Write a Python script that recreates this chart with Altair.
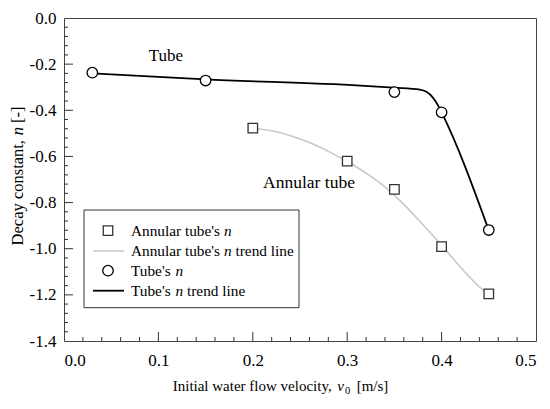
import altair as alt
import pandas as pd

# ---- data ----
annular_v = [0.20, 0.30, 0.35, 0.40, 0.45]
annular_n = [-0.477, -0.620, -0.743, -0.991, -1.196]

tube_v = [0.03, 0.15, 0.35, 0.40, 0.45]
tube_n = [-0.237, -0.271, -0.321, -0.409, -0.919]

annular_trend_v = [0.200, 0.220, 0.240, 0.260, 0.280, 0.300, 0.320,
                   0.340, 0.360, 0.380, 0.400, 0.420, 0.440, 0.450]
annular_trend_n = [-0.477, -0.489, -0.510, -0.540, -0.578, -0.622, -0.672,
                   -0.732, -0.808, -0.895, -0.985, -1.080, -1.165, -1.200]

tube_trend_v = [0.030, 0.150, 0.314, 0.349, 0.377, 0.384, 0.391, 0.3965, 0.400, 0.450]
tube_trend_n = [-0.240, -0.266, -0.293, -0.302, -0.310, -0.320, -0.346, -0.381, -0.409, -0.920]

x_labels = [0.0, 0.1, 0.2, 0.3, 0.4, 0.5]
y_labels = [-1.4, -1.2, -1.0, -0.8, -0.6, -0.4, -0.2, 0.0]
x_major = [0.1, 0.2, 0.3, 0.4]
x_minor = [0.02, 0.04, 0.06, 0.08, 0.12, 0.14, 0.16, 0.18, 0.22, 0.24, 0.26, 0.28,
           0.32, 0.34, 0.36, 0.38, 0.42, 0.44, 0.46, 0.48]
y_major = [-1.2, -1.0, -0.8, -0.6, -0.4, -0.2]
y_minor = [-1.36, -1.32, -1.28, -1.24, -1.16, -1.12, -1.08, -1.04, -0.96, -0.92,
           -0.88, -0.84, -0.76, -0.72, -0.68, -0.64, -0.56, -0.52, -0.48, -0.44,
           -0.36, -0.32, -0.28, -0.24, -0.16, -0.12, -0.08, -0.04]

# ---- styling ----
W, H = 472, 323
FONT = "Liberation Serif"
DARK = "#333333"

xs = alt.Scale(domain=[0, 0.5], nice=False, zero=False)
ys = alt.Scale(domain=[-1.4, 0], nice=False, zero=False)

ax_x = alt.Axis(values=x_labels, format=".1f", ticks=False, grid=False, domain=False,
                title=None, labelFont=FONT, labelFontSize=17, labelColor="black",
                labelPadding=11, labelOverlap=False)
ax_y = alt.Axis(values=y_labels, labelExpr="replace(format(datum.value, '.1f'), '\u2212', '-')",
                ticks=False, grid=False, domain=False, title=None, labelFont=FONT,
                labelFontSize=17, labelColor="black", labelPadding=8, labelOverlap=False)


def X(field="v"):
    return alt.X(f"{field}:Q", scale=xs, axis=ax_x)


def Y(field="n"):
    return alt.Y(f"{field}:Q", scale=ys, axis=ax_y)


annular_df = pd.DataFrame({"v": annular_v, "n": annular_n})
tube_df = pd.DataFrame({"v": tube_v, "n": tube_n})
annular_trend_df = pd.DataFrame({"v": annular_trend_v, "n": annular_trend_n})
tube_trend_df = pd.DataFrame({"v": tube_trend_v, "n": tube_trend_n})

one = pd.DataFrame({"a": [0]})

layers = []

# inward ticks
layers.append(alt.Chart(pd.DataFrame({"v": x_major})).mark_rule(color=DARK, strokeWidth=1)
              .encode(x=X(), y=alt.value(H), y2=alt.value(H - 9)))
layers.append(alt.Chart(pd.DataFrame({"v": x_minor})).mark_rule(color=DARK, strokeWidth=1)
              .encode(x=X(), y=alt.value(H), y2=alt.value(H - 4)))
layers.append(alt.Chart(pd.DataFrame({"n": y_major})).mark_rule(color=DARK, strokeWidth=1)
              .encode(y=Y(), x=alt.value(0), x2=alt.value(9)))
layers.append(alt.Chart(pd.DataFrame({"n": y_minor})).mark_rule(color=DARK, strokeWidth=1)
              .encode(y=Y(), x=alt.value(0), x2=alt.value(4)))

# trend lines
layers.append(alt.Chart(annular_trend_df).mark_line(color="#c8c8c8", strokeWidth=1.6,
                                                   interpolate="monotone")
              .encode(x=X(), y=Y(), order="v:Q"))
layers.append(alt.Chart(tube_trend_df).mark_line(color="black", strokeWidth=1.8,
                                                interpolate="monotone")
              .encode(x=X(), y=Y(), order="v:Q"))

# markers
layers.append(alt.Chart(annular_df).mark_point(shape="square", filled=True, fill="white",
                                               stroke=DARK, strokeWidth=1.3, size=90, opacity=1)
              .encode(x=X(), y=Y()))
layers.append(alt.Chart(tube_df).mark_point(shape="circle", filled=True, fill="white",
                                            stroke="black", strokeWidth=1.3, size=110, opacity=1)
              .encode(x=X(), y=Y()))


def txt(s, x, y, size=15, style="normal", align="left", angle=0, baseline="middle"):
    kw = dict(text=s, font=FONT, fontSize=size, fontStyle=style, align=align,
              baseline=baseline, color="black")
    if angle:
        kw["angle"] = angle
    return alt.Chart(one).mark_text(**kw).encode(x=alt.value(x), y=alt.value(y))


# annotations
layers.append(txt("Tube", 102, 38, size=17, align="center"))
layers.append(txt("Annular tube", 245, 165, size=17.5, align="center"))

# legend
layers.append(alt.Chart(one).mark_rect(fill="white", stroke=DARK, strokeWidth=1)
              .encode(x=alt.value(20), x2=alt.value(235), y=alt.value(192), y2=alt.value(289.7)))
layers.append(alt.Chart(one).mark_point(shape="square", filled=True, fill="white", stroke=DARK,
                                        strokeWidth=1.3, size=90, opacity=1)
              .encode(x=alt.value(44), y=alt.value(212.7)))
layers.append(alt.Chart(one).mark_rule(color="#c8c8c8", strokeWidth=1.6)
              .encode(x=alt.value(29), x2=alt.value(60), y=alt.value(233)))
layers.append(alt.Chart(one).mark_point(shape="circle", filled=True, fill="white", stroke="black",
                                        strokeWidth=1.3, size=110, opacity=1)
              .encode(x=alt.value(44), y=alt.value(252.7)))
layers.append(alt.Chart(one).mark_rule(color="black", strokeWidth=1.8)
              .encode(x=alt.value(29), x2=alt.value(60), y=alt.value(272.7)))

LS = 15.3
layers.append(txt("Annular tube's", 67, 212.7, size=LS))
layers.append(txt("n", 160, 212.7, size=LS, style="italic"))
layers.append(txt("Annular tube's", 67, 233, size=LS))
layers.append(txt("n", 160, 233, size=LS, style="italic"))
layers.append(txt("trend line", 171.5, 233, size=LS))
layers.append(txt("Tube's", 67, 252.7, size=LS))
layers.append(txt("n", 111.5, 252.7, size=LS, style="italic"))
layers.append(txt("Tube's", 67, 272.7, size=LS))
layers.append(txt("n", 111.5, 272.7, size=LS, style="italic"))
layers.append(txt("trend line", 123, 272.7, size=LS))

# axis titles
TS = 15
layers.append(txt("Initial water flow velocity,", 267.7, 368, size=TS, align="right"))
layers.append(txt("v", 276.5, 368, size=TS, style="italic", align="center"))
layers.append(txt("0", 283.5, 373, size=10.5, align="center"))
layers.append(txt("[m/s]", 292.7, 368, size=TS))

YS = 16.5
layers.append(txt("Decay constant,", -46, 122, size=YS, align="right", angle=270))
layers.append(txt("n", -46, 113, size=YS, style="italic", align="center", angle=270))
layers.append(txt("[-]", -46, 105, size=YS, align="left", angle=270))

chart = alt.layer(*layers).properties(
    width=W, height=H,
    autosize=alt.AutoSizeParams(type="none"),
    padding={"left": 56, "top": 10, "right": 6, "bottom": 60},
    background="white",
).configure_view(stroke="#444444", strokeWidth=1)

chart.save("out.html", embed_options={"renderer": "svg", "actions": False})
